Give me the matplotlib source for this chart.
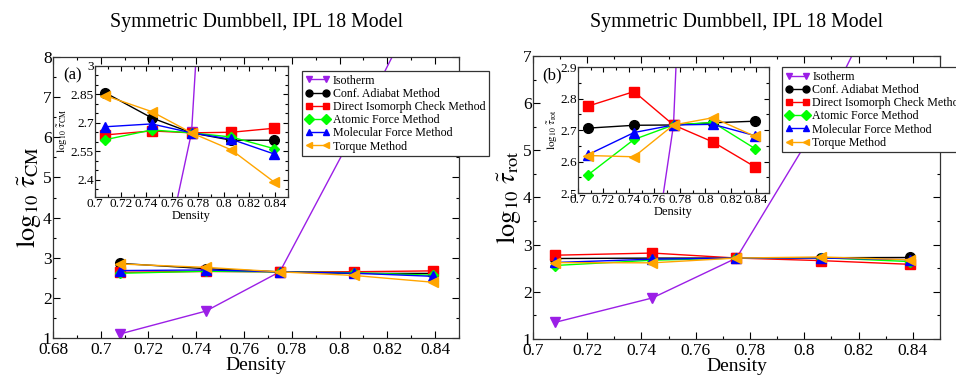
import matplotlib
matplotlib.use('Agg')
import matplotlib.pyplot as plt
from matplotlib.ticker import MultipleLocator

plt.rcParams['font.family'] = ['Liberation Serif', 'DejaVu Serif']
plt.rcParams['mathtext.fontset'] = 'stix'

# densities of the state points
density = [0.708, 0.744, 0.775, 0.806, 0.839]

# (a) log10 of reduced centre-of-mass relaxation time
cm_isotherm = [1.10, 1.67, 2.65, 6.12, 10.0]
cm_adiabat = [2.859, 2.727, 2.648, 2.609, 2.609]
cm_direct = [2.637, 2.658, 2.648, 2.651, 2.672]
cm_atomic = [2.612, 2.663, 2.648, 2.626, 2.565]
cm_molecular = [2.680, 2.695, 2.648, 2.614, 2.537]
cm_torque = [2.844, 2.760, 2.648, 2.558, 2.390]

# (b) log10 of reduced rotational relaxation time
rot_isotherm = [1.35, 1.87, 2.716, 5.66, 9.5]
rot_adiabat = [2.706, 2.715, 2.716, 2.723, 2.728]
rot_direct = [2.776, 2.822, 2.716, 2.662, 2.583]
rot_atomic = [2.558, 2.670, 2.716, 2.724, 2.641]
rot_molecular = [2.622, 2.692, 2.716, 2.718, 2.682]
rot_torque = [2.619, 2.615, 2.716, 2.739, 2.680]

labels = ['Isotherm', 'Conf. Adiabat Method', 'Direct Isomorph Check Method',
          'Atomic Force Method', 'Molecular Force Method', 'Torque Method']
colors = ['#9b1ee6', 'black', '#ff0000', '#00ff00', '#0000ff', '#ffa500']
markers = ['v', 'o', 's', 'D', '^', '<']
msizes = [7, 7, 6.5, 5, 7, 7]


def fmt(v, _):
    return ('%.2f' % v).rstrip('0').rstrip('.')


def style_axes(ax, labelsize):
    ax.tick_params(which='both', direction='in', top=True, right=True,
                   labelsize=labelsize, width=0.8)
    ax.tick_params(which='major', length=5)
    ax.tick_params(which='minor', length=2.5)
    for s in ax.spines.values():
        s.set_linewidth(0.9)
        s.set_color('#333333')


def draw_series(ax, series):
    handles = []
    for y, c, m, ms, lab in zip(series, colors, markers, msizes, labels):
        h, = ax.plot(density, y, color=c, marker=m, markersize=ms,
                     linewidth=1.0, label=lab)
        handles.append(h)
    return handles


fig = plt.figure(figsize=(9.56, 3.78), dpi=100)

panels = [
    dict(series=[cm_isotherm, cm_adiabat, cm_direct, cm_atomic, cm_molecular, cm_torque],
         main=[0.0554, 0.1058, 0.4247, 0.7434], xlim=(0.68, 0.85), ylim=(1, 8),
         inset=[0.0994, 0.4788, 0.2019, 0.3466], ilim=(2.31, 3.0), imajor=0.15, iminor=0.05,
         ylabel=r'$\log_{10}\,\tilde{\tau}_{\rm CM}$',
         iylabel=r'$\log_{10}\,\tilde{\tau}_{\rm CM}$',
         tag='(a)', tagx=0.066, legx=0.316, legy=0.812, titlex=0.268),
    dict(series=[rot_isotherm, rot_adiabat, rot_direct, rot_atomic, rot_molecular, rot_torque],
         main=[0.5575, 0.1032, 0.4257, 0.7487], xlim=(0.70, 0.85), ylim=(1, 7),
         inset=[0.6046, 0.4894, 0.1998, 0.3333], ilim=(2.5, 2.9), imajor=0.1, iminor=0.05,
         ylabel=r'$\log_{10}\,\tilde{\tau}_{\rm rot}$',
         iylabel=r'$\log_{10}\,\tilde{\tau}_{\rm rot}$',
         tag='(b)', tagx=0.567, legx=0.818, legy=0.822, titlex=0.77),
]

for p in panels:
    ax = fig.add_axes(p['main'])
    handles = draw_series(ax, p['series'])
    ax.set_xlim(*p['xlim'])
    ax.set_ylim(*p['ylim'])
    ax.xaxis.set_major_locator(MultipleLocator(0.02))
    ax.xaxis.set_minor_locator(MultipleLocator(0.01))
    ax.yaxis.set_major_locator(MultipleLocator(1))
    ax.yaxis.set_minor_locator(MultipleLocator(0.5))
    ax.xaxis.set_major_formatter(plt.FuncFormatter(fmt))
    style_axes(ax, 12.5)
    ax.tick_params(axis='y', pad=1)
    ax.tick_params(axis='x', pad=3)
    ax.set_xlabel('Density', fontsize=14, labelpad=-1)
    ax.set_ylabel(p['ylabel'], fontsize=19, labelpad=0)
    fig.text(p['titlex'], 0.94, 'Symmetric Dumbbell, IPL 18 Model',
             fontsize=14.3, ha='center', va='center')

    ins = fig.add_axes(p['inset'])
    draw_series(ins, p['series'])
    ins.set_xlim(0.70, 0.85)
    ins.set_ylim(*p['ilim'])
    ins.xaxis.set_major_locator(MultipleLocator(0.02))
    ins.xaxis.set_minor_locator(MultipleLocator(0.01))
    ins.yaxis.set_major_locator(MultipleLocator(p['imajor']))
    ins.yaxis.set_minor_locator(MultipleLocator(p['iminor']))
    ins.xaxis.set_major_formatter(plt.FuncFormatter(fmt))
    ins.yaxis.set_major_formatter(plt.FuncFormatter(fmt))
    style_axes(ins, 9.5)
    ins.tick_params(which='major', length=3.5, pad=1)
    ins.tick_params(which='minor', length=2)
    ins.set_xlabel('Density', fontsize=9, labelpad=0)
    ins.set_ylabel(p['iylabel'], fontsize=8, labelpad=1)
    fig.text(p['tagx'], 0.80, p['tag'], fontsize=12, ha='left', va='center')

    leg = fig.legend(handles=handles, loc='upper left',
                     bbox_to_anchor=(p['legx'], p['legy']), bbox_transform=fig.transFigure,
                     fontsize=8.6, frameon=True, fancybox=False, framealpha=1,
                     edgecolor='#333333', numpoints=2, handlelength=2.0,
                     handletextpad=0.25, labelspacing=0.1, borderpad=0.3,
                     borderaxespad=0)
    leg.get_frame().set_linewidth(0.9)
    for h in leg.legend_handles:
        h.set_markersize(5)

fig.savefig('out.png', dpi=100)
